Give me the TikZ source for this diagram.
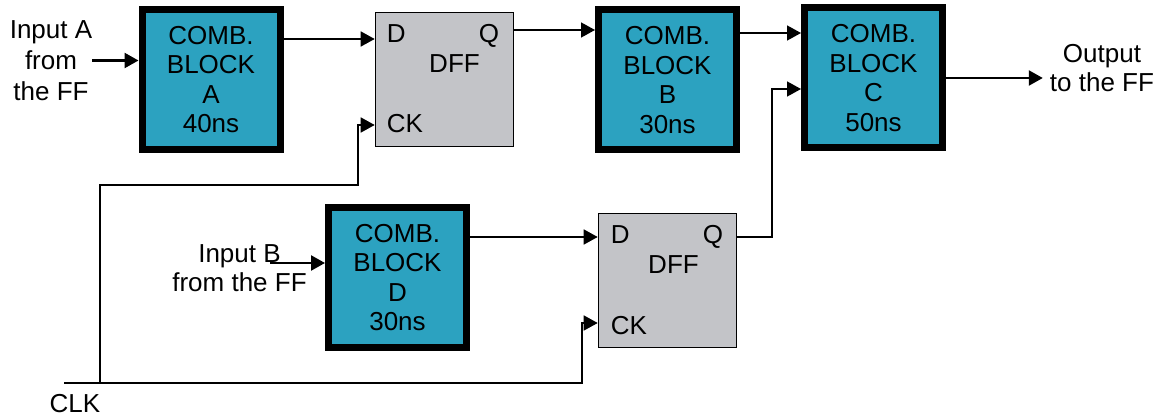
\documentclass[tikz,border=0pt]{standalone}
\usepackage{fontspec}
\setmainfont{Liberation Sans}
\usetikzlibrary{calc,arrows.meta,positioning}
\definecolor{blockTeal}{RGB}{44,162,192}
\definecolor{dffGray}{RGB}{195,196,200}

\begin{document}
\begin{tikzpicture}[x=1pt,y=-1pt,
  every node/.style={inner sep=0pt,font=\fontsize{26}{29.5}\selectfont},
  comb/.style={draw=black,line width=7pt,fill=blockTeal,minimum width=138pt,minimum height=140pt,align=center},
  dff/.style={draw=black,line width=1.6pt,fill=dffGray,minimum width=138pt,minimum height=134pt},
  wire/.style={line width=1.6pt,-{Triangle[length=14pt,width=15pt]}},
  thickwire/.style={wire,line width=2.4pt}]
\useasboundingbox (0,0) rectangle (1165,417);

% combinational blocks
\node[comb] (combA) at (211,79.5) {COMB.\\BLOCK\\A\\40ns};
\node[comb] (combB) at (667.5,80) {COMB.\\BLOCK\\B\\30ns};
\node[comb] (combC) at (873.5,78) {COMB.\\BLOCK\\C\\50ns};
\node[comb] (combD) at (397.5,277.5) {COMB.\\BLOCK\\D\\30ns};

% flip-flops
\node[dff] (dff1) at (444.5,79.5) {};
\node[anchor=base west] (dff1D) at ($(dff1.north west)+(12,31)$) {D};
\node[anchor=base east] (dff1Q) at ($(dff1.north east)+(-15,31)$) {Q};
\node[anchor=base] (dff1T) at ($(dff1.north)+(10,61)$) {DFF};
\node[anchor=base west] (dff1CK) at ($(dff1.north west)+(12,121)$) {CK};

\node[dff] (dff2) at (667.5,280.5) {};
\node[anchor=base west] (dff2D) at ($(dff2.north west)+(13,31)$) {D};
\node[anchor=base east] (dff2Q) at ($(dff2.north east)+(-14,31)$) {Q};
\node[anchor=base] (dff2T) at ($(dff2.north)+(6,61)$) {DFF};
\node[anchor=base west] (dff2CK) at ($(dff2.north west)+(13,122)$) {CK};

% inputs, output, clock
\node[align=center,font=\fontsize{26}{31}\selectfont] (inA) at (51,60.5) {Input A\\from\\the FF};
\node[align=center,font=\fontsize{26}{29}\selectfont] (inB) at (239.5,268) {Input B\\from the FF};
\node[align=center,font=\fontsize{26}{29}\selectfont,inner xsep=7pt] (outT) at (1102,68) {Output\\to the FF};
\node[anchor=base] (clkT) at (75,412) {CLK};

\coordinate (inBstart) at (270,263);
\coordinate (clk) at (64,383);
\coordinate (clkSplit) at (100,383);

% data path
\draw[thickwire] (inA.east) -- (combA.west |- inA.east);
\draw[thickwire] (inBstart) -- (combD.west |- inBstart);
\draw[wire] (combA.east |- 0,39) -- (dff1.west |- 0,39);
\draw[wire] (dff1.east |- 0,30) -- (combB.west |- 0,30);
\draw[wire] (combB.east |- 0,33) -- (combC.west |- 0,33);
\draw[thickwire] (combC.east |- 0,78) -- (outT.west |- 0,78);
\draw[wire] (combD.east |- 0,237) -- (dff2.west |- 0,237);
\draw[wire] (dff2.east |- 0,237) -- (772,237) -- (772,89) -- (combC.west |- 0,89);

% clock
\draw[wire] (clk) -- (582,383) -- (582,323) -- (dff2.west |- 0,323);
\draw[wire] (clkSplit) -- (100,185) -- (358,185) -- (358,125) -- (dff1.west |- 0,125);
\end{tikzpicture}
\end{document}
